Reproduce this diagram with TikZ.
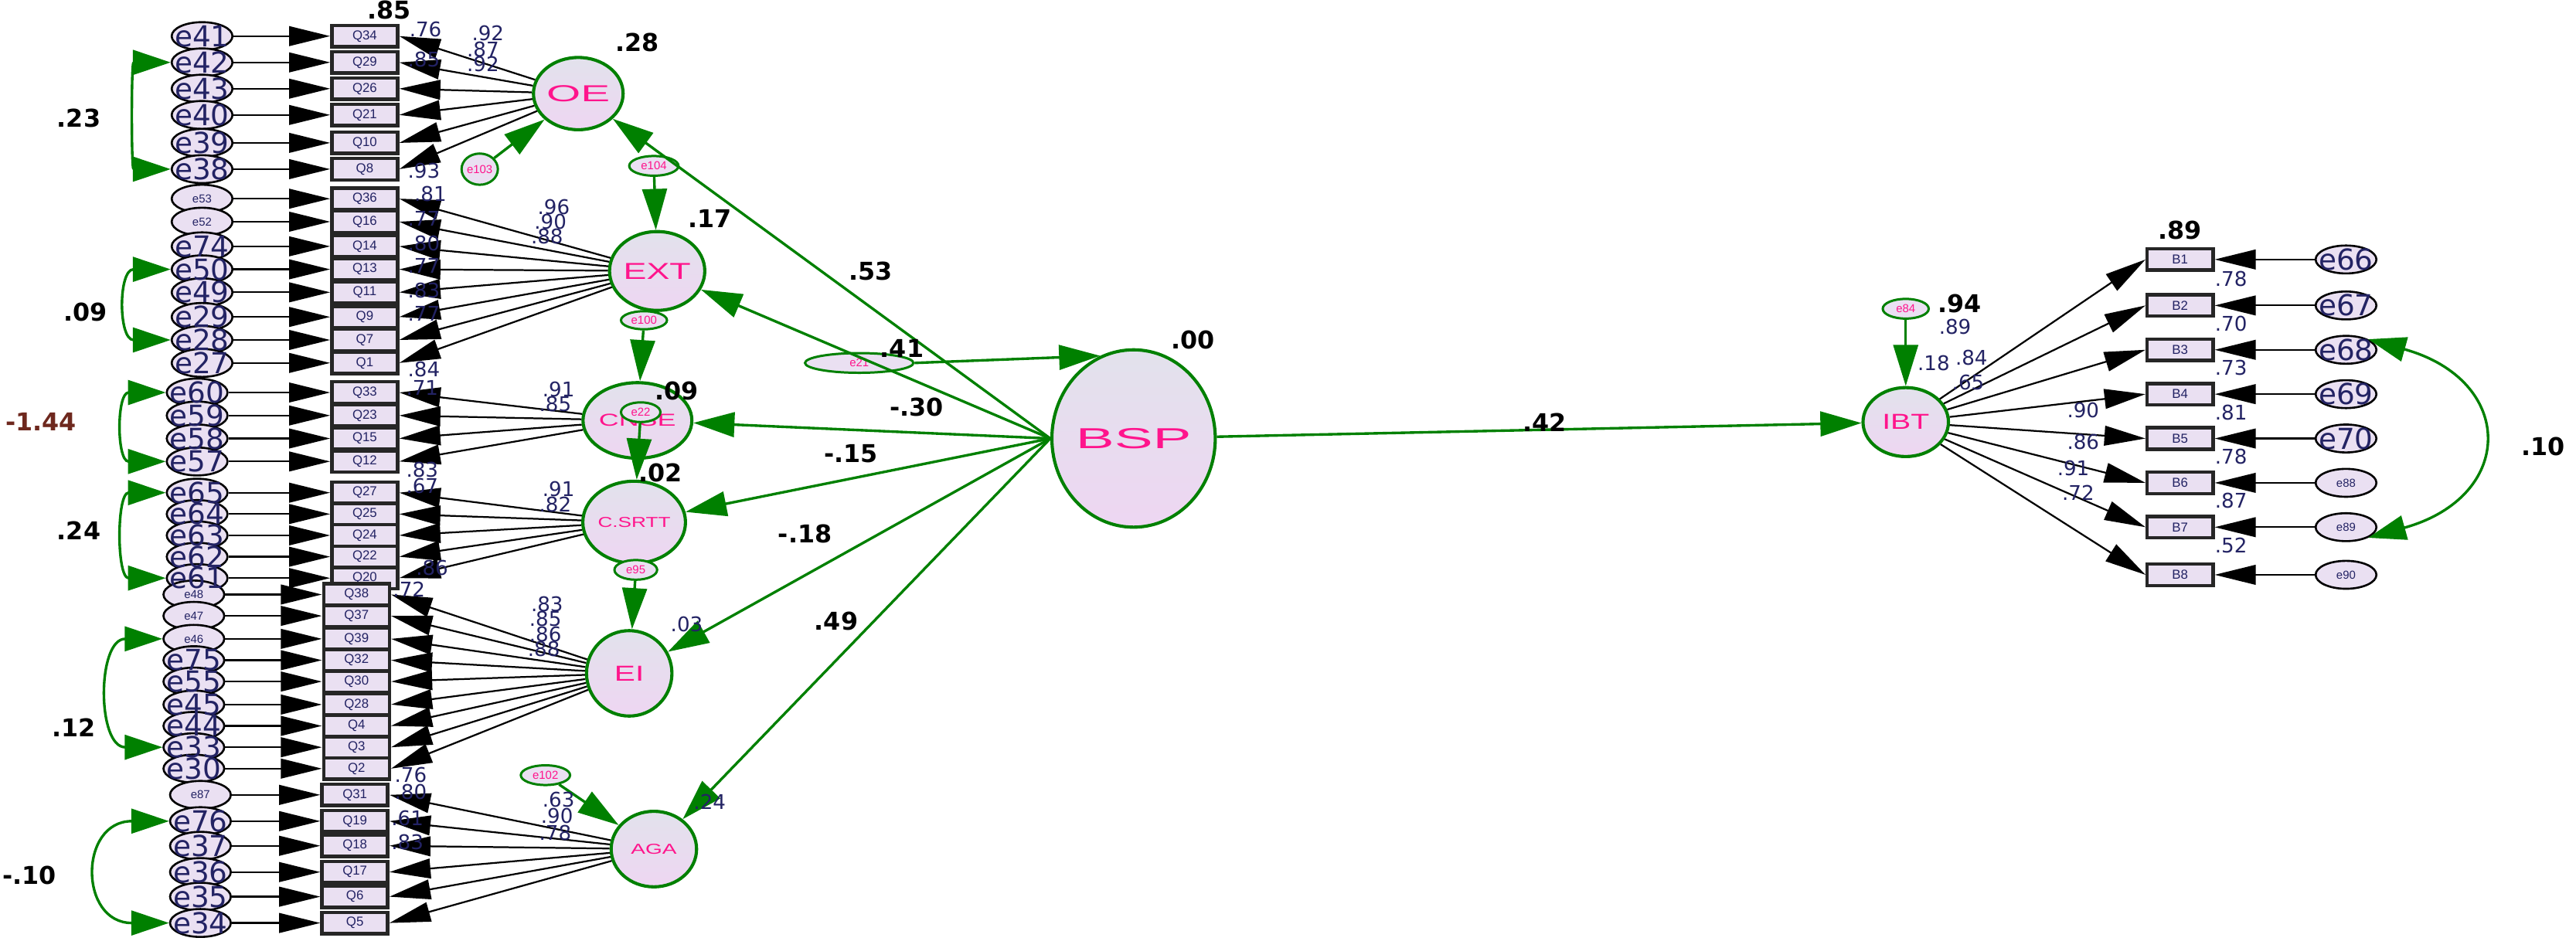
\documentclass[tikz,border=0pt]{standalone}
\usepackage{fontspec}
\setmainfont{Liberation Sans}
\newfontfamily\dvs{DejaVu Sans}
\usetikzlibrary{shapes.geometric,arrows.meta}
\definecolor{grn}{RGB}{0,128,0}
\definecolor{lav}{RGB}{234,224,242}
\definecolor{latA}{RGB}{226,226,236}
\definecolor{latB}{RGB}{238,214,242}
\definecolor{pnk}{RGB}{255,20,140}
\definecolor{nvy}{RGB}{35,35,100}
\definecolor{brn}{RGB}{110,40,30}
\newcommand{\myscx}[2]{\scalebox{#1}[1]{#2}}
\begin{document}
\begin{tikzpicture}[x=0.2mm,y=-0.2mm,
 lat/.style={ellipse,draw=grn,line width=1.1pt,top color=latA,bottom color=latB,inner sep=0pt,text=pnk},
 obs/.style={rectangle,draw=black!85,line width=1.2pt,fill=lav,minimum width=8mm,minimum height=2.6mm,inner sep=0pt,font=\fontsize{4.5}{4.5}\selectfont,text=nvy},
 err/.style={ellipse,draw=black,line width=0.7pt,fill=lav,minimum width=7.4mm,minimum height=3.4mm,inner sep=0pt},
 dst/.style={ellipse,draw=grn,line width=0.8pt,fill=lav,inner sep=0pt,font=\fontsize{4}{4}\selectfont,text=pnk},
 elab/.style={font=\dvs\fontsize{10}{10}\selectfont,text=nvy,inner sep=0pt},
 eslab/.style={font=\fontsize{4}{4}\selectfont,text=nvy,inner sep=0pt},
 blk/.style={draw=black,line width=0.6pt,-{Triangle[length=5mm,width=2.4mm]}},
 gar/.style={draw=grn,line width=0.9pt,-{Triangle[length=5mm,width=3mm]}},
 cov/.style={draw=grn,line width=0.9pt,{Triangle[length=4.6mm,width=3mm]}-{Triangle[length=4.6mm,width=3mm]}},
 val/.style={font=\dvs\fontsize{7}{7}\selectfont,text=nvy,inner sep=0pt},
 bval/.style={font=\dvs\bfseries\fontsize{8.5}{8.5}\selectfont,text=black,inner sep=0pt},
]
\useasboundingbox (0,0) rectangle (1568,577);

% latent variables
\node[lat,minimum width=10.8mm,minimum height=8.8mm,font=\fontsize{8}{8}\selectfont] (OE) at (352,57) {\myscx{1.9}{OE}};
\node[lat,minimum width=11.2mm,minimum height=9.6mm,font=\fontsize{8}{8}\selectfont] (EXT) at (400,165) {\myscx{1.5}{EXT}};
\node[lat,minimum width=9.6mm,minimum height=9.2mm,font=\fontsize{6}{6}\selectfont] (CNSE) at (388,256) {\myscx{1.6}{CNSE}};
\node[lat,minimum width=9.6mm,minimum height=10mm,font=\fontsize{5}{5}\selectfont] (SRTT) at (386,318) {\myscx{1.4}{C.SRTT}};
\node[lat,minimum width=10.4mm,minimum height=10.4mm,font=\fontsize{7.5}{7.5}\selectfont] (EI) at (383,410) {\myscx{1.45}{EI}};
\node[lat,minimum width=10.4mm,minimum height=9.2mm,font=\fontsize{5}{5}\selectfont] (AGA) at (398,517) {\myscx{1.5}{AGA}};
\node[lat,minimum width=17.6mm,minimum height=21.6mm,font=\fontsize{10}{10}\selectfont] (BSP) at (690,267) {\myscx{2}{BSP}};
\node[lat,minimum width=10.4mm,minimum height=8.4mm,font=\fontsize{7.5}{7.5}\selectfont] (IBT) at (1160,257) {\myscx{1.4}{IBT}};

% disturbances
\node[dst,minimum width=4.4mm,minimum height=3.8mm] (e103) at (292,103) {e103};
\node[dst,minimum width=6mm,minimum height=2.4mm] (e104) at (398,101) {e104};
\node[dst,minimum width=5.6mm,minimum height=2.2mm] (e100) at (392,195) {e100};
\node[dst,minimum width=4.8mm,minimum height=2.4mm] (e22) at (390,251) {e22};
\node[dst,minimum width=5.2mm,minimum height=2.4mm] (e95) at (387,347) {e95};
\node[dst,minimum width=6mm,minimum height=2.4mm] (e102) at (332,472) {e102};
\node[dst,minimum width=13.2mm,minimum height=2.4mm] (e21) at (523,221) {e21};
\node[dst,minimum width=5.6mm,minimum height=2.4mm] (e84) at (1160,188) {e84};

\def\rows{123/222/22/e41/Q34/elab/OE,123/222/38/e42/Q29/elab/OE,123/222/54/e43/Q26/elab/OE,123/222/70/e40/Q21/elab/OE,123/222/87/e39/Q10/elab/OE,123/222/103/e38/Q8/elab/OE,
123/222/121/e53/Q36/eslab/EXT,123/222/135/e52/Q16/eslab/EXT,123/222/150/e74/Q14/elab/EXT,123/222/164/e50/Q13/elab/EXT,123/222/178/e49/Q11/elab/EXT,123/222/193/e29/Q9/elab/EXT,123/222/207/e28/Q7/elab/EXT,123/222/221/e27/Q1/elab/EXT,
120/222/239/e60/Q33/elab/CNSE,120/222/253/e59/Q23/elab/CNSE,120/222/267/e58/Q15/elab/CNSE,120/222/281/e57/Q12/elab/CNSE,
120/222/300/e65/Q27/elab/SRTT,120/222/313/e64/Q25/elab/SRTT,120/222/326/e63/Q24/elab/SRTT,120/222/339/e62/Q22/elab/SRTT,120/222/352/e61/Q20/elab/SRTT,
118/217/362/e48/Q38/eslab/EI,118/217/375/e47/Q37/eslab/EI,118/217/389/e46/Q39/eslab/EI,118/217/402/e75/Q32/elab/EI,118/217/415/e55/Q30/elab/EI,118/217/429/e45/Q28/elab/EI,118/217/442/e44/Q4/elab/EI,118/217/455/e33/Q3/elab/EI,118/217/468/e30/Q2/elab/EI,
122/216/484/e87/Q31/eslab/AGA,122/216/500/e76/Q19/elab/AGA,122/216/515/e37/Q18/elab/AGA,122/216/531/e36/Q17/elab/AGA,122/216/546/e35/Q6/elab/AGA,122/216/562/e34/Q5/elab/AGA}

\def\rrows{1428/1327/158/e66/B1/elab,1428/1327/186/e67/B2/elab,1428/1327/213/e68/B3/elab,1428/1327/240/e69/B4/elab,1428/1327/267/e70/B5/elab,1428/1327/294/e88/B6/eslab,1428/1327/321/e89/B7/eslab,1428/1327/350/e90/B8/eslab}

\foreach \ex/\qx/\y/\e/\q/\s/\L in \rows { \node[err] (\e) at (\ex,\y) {}; }
\foreach \ex/\qx/\y/\e/\q/\s/\L in \rows { \node[obs] (\q) at (\qx,\y) {\q}; }
\foreach \ex/\qx/\y/\e/\q/\s in \rrows { \node[err] (\e) at (\ex,\y) {}; \node[obs] (\q) at (\qx,\y) {\q}; }

% measurement arrows
\foreach \ex/\qx/\y/\e/\q/\s/\L in \rows { \draw[blk] (\e.east) -- (\q.west); \draw[blk] (\L) -- (\q.east); }
\foreach \ex/\qx/\y/\e/\q/\s in \rrows { \draw[blk] (\e.west) -- (\q.east); \draw[blk] (IBT) -- (\q.west); }

% error labels
\foreach \ex/\qx/\y/\e/\q/\s/\L in \rows { \node[\s] (t\e) at (\e) {\e}; }
\foreach \ex/\qx/\y/\e/\q/\s in \rrows { \node[\s] (t\e) at (\e) {\e}; }

% structural arrows
\draw[gar] (e103) -- (OE);
\draw[gar] (e104) -- (EXT);
\draw[gar] (e100) -- (CNSE);
\draw[gar] (e22) -- (SRTT);
\draw[gar] (e95) -- (EI);
\draw[gar] (e102) -- (AGA);
\foreach \t in {OE,EXT,CNSE,SRTT,EI,AGA} { \draw[gar] (BSP.west) -- (\t); }
\draw[gar] (e21.east) -- (BSP.112);
\draw[gar] (BSP) -- (IBT);
\draw[gar] (e84) -- (IBT);

% covariances
\draw[cov] (e42.west) .. controls +(-24,0) and +(-24,0) .. (e38.west);
\draw[cov] (e50.west) .. controls +(-32,0) and +(-32,0) .. (e28.west);
\draw[cov] (e60.west) .. controls +(-30,0) and +(-30,0) .. (e57.west);
\draw[cov] (e65.west) .. controls +(-30,0) and +(-30,0) .. (e61.west);
\draw[cov] (e46.west) .. controls +(-40,0) and +(-40,0) .. (e33.west);
\draw[cov] (e76.west) .. controls +(-55,0) and +(-55,0) .. (e34.west);
\draw[cov] (e68.north east) .. controls +(90,25) and +(90,-25) .. (e89.south east);

% estimates
\foreach \x/\y/\t [count=\i] in {259/18/.76,258/36/.85,258/104/.93,297/20/.92,294/30/.87,294/39/.92,
262/118/.81,258/133/.77,258/148/.80,258/162/.77,258/177/.83,258/191/.77,258/225/.84,337/126/.96,335/135/.90,333/144/.88,
257/236/.71,340/237/.91,338/246/.85,257/286/.83,
257/296/.67,340/298/.91,338/307/.82,263/346/.86,
249/359/.72,333/368/.83,332/377/.85,332/386/.86,331/395/.88,250/472/.76,418/380/.03,
250/482/.80,248/498/.61,248/513/.83,340/487/.63,339/497/.90,338/507/.78,432/488/.24,
1190/199/.89,1177/221/.18,1200/218/.84,1198/233/.65,1268/250/.90,1268/269/.86,1262/285/.91,1265/300/.72,
1358/170/.78,1358/197/.70,1358/224/.73,1358/251/.81,1358/278/.78,1358/305/.87,1358/332/.52}
{ \node[val] (v\i) at (\x,\y) {\t}; }

\foreach \x/\y/\t [count=\i] in {237/6/.85,388/26/.28,432/133/.17,412/238/.09,402/288/.02,530/165/.53,549/212/.41,726/207/.00,558/248/-.30,518/276/-.15,490/325/-.18,509/378/.49,940/257/.42,1327/140/.89,1193/185/.94,1548/272/.10,48/72/.23,52/190/.09,48/323/.24,45/443/.12,18/533/-.10}
{ \node[bval] (b\i) at (\x,\y) {\t}; }
\node[bval,text=brn] (bneg) at (25,257) {-1.44};
\end{tikzpicture}
\end{document}
